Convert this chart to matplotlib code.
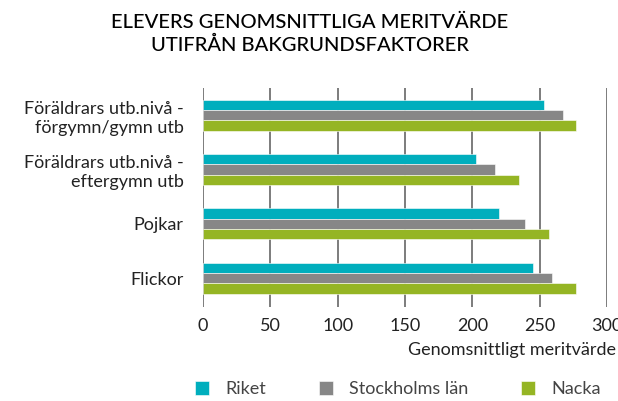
import matplotlib
matplotlib.use("Agg")
from matplotlib import pyplot as plt
import numpy as np

plt.rcParams['font.family'] = ['Lato', 'DejaVu Sans']

categories = ["Föräldrars utb.nivå -\nförgymn/gymn utb",
              "Föräldrars utb.nivå -\neftergymn utb",
              "Pojkar",
              "Flickor"]
series = ["Riket", "Stockholms län", "Nacka"]
riket = [253, 203, 220, 245]
stockholm = [267, 217, 239, 259]
nacka = [277, 235, 257, 277]
colors = ["#00aebd", "#878787", "#95b524"]

fig = plt.figure(figsize=(6.18, 4.01), dpi=100)
ax = fig.add_axes([203/618, 1-307/401, 404/618, (307-88)/401])

y = np.arange(len(categories))
h = 0.19
for i, (vals, name) in enumerate(zip([riket, stockholm, nacka], series)):
    ax.barh(y + (i-1)*h, vals, height=h, color=colors[i], label=name, zorder=2,
            edgecolor="white", linewidth=0.4)

ax.set_xlim(0, 300)
ax.set_ylim(3.53, -0.5)
ax.set_xticks(range(0, 301, 50))
ax.set_yticks(y)
ax.set_yticklabels(categories, fontsize=13, color="#222222", linespacing=1.25)
ax.tick_params(axis='x', labelsize=13, colors="#222222", length=0, pad=8)
ax.tick_params(axis='y', length=0, pad=14)
ax.grid(axis='x', color="#666666", linewidth=1.2, zorder=0)
for s in ax.spines.values():
    s.set_visible(False)

fig.text(616/618, 1-350/401, "Genomsnittligt meritvärde", ha="right", va="center",
         fontsize=13, color="#222222")
fig.text(310/618, 1-34/401, "ELEVERS GENOMSNITTLIGA MERITVÄRDE\nUTIFRÅN BAKGRUNDSFAKTORER",
         ha="center", va="center", fontsize=14.5, color="#000000", linespacing=1.35,
         fontweight="medium")

leg = fig.legend(loc="center", bbox_to_anchor=(398/618, 1-389/401), ncol=3, frameon=False,
                 fontsize=13, handlelength=0.8, handleheight=0.8, columnspacing=2.9,
                 handletextpad=0.9)
for t in leg.get_texts():
    t.set_color("#444444")

fig.savefig("out.png", dpi=100)
